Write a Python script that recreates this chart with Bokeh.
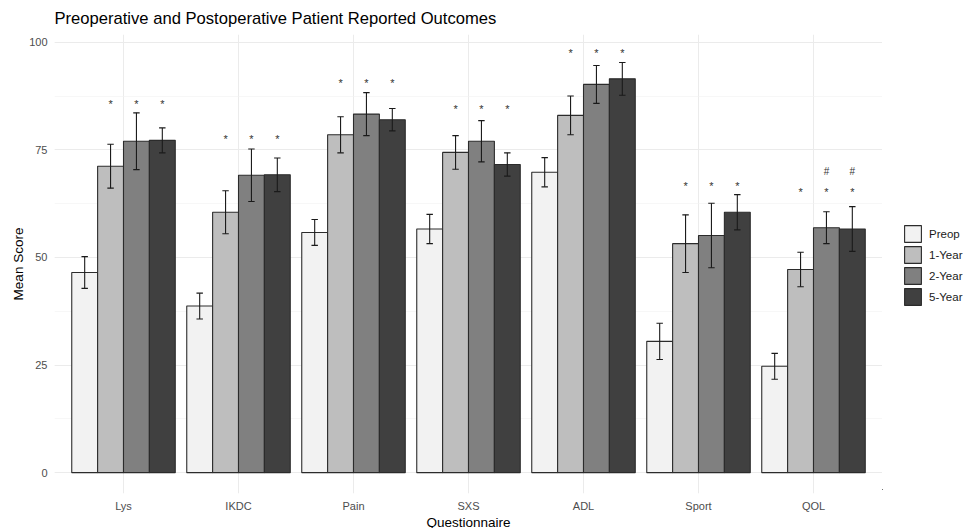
from bokeh.plotting import figure
from bokeh.layouts import row
from bokeh.models import (ColumnDataSource, FactorRange, SingleIntervalTicker, Legend, LegendItem, Range1d)
from bokeh.transform import dodge
from bokeh.core.properties import value
from bokeh.embed import file_html
from bokeh.resources import INLINE

categories = ["Lys", "IKDC", "Pain", "SXS", "ADL", "Sport", "QOL"]
groups = ["Preop", "1-Year", "2-Year", "5-Year"]

preop_mean = [46.5, 38.7, 55.8, 56.6, 69.8, 30.5, 24.7]
preop_err = [3.7, 3.0, 3.0, 3.4, 3.4, 4.2, 3.0]
y1_mean = [71.2, 60.5, 78.5, 74.4, 83.0, 53.2, 47.2]
y1_err = [5.1, 5.0, 4.2, 3.9, 4.5, 6.7, 4.0]
y2_mean = [77.0, 69.1, 83.3, 77.0, 90.2, 55.1, 56.9]
y2_err = [6.6, 6.1, 5.0, 4.8, 4.4, 7.5, 3.7]
y5_mean = [77.2, 69.2, 82.0, 71.6, 91.5, 60.5, 56.6]
y5_err = [2.9, 3.9, 2.6, 2.7, 3.8, 4.1, 5.2]

star_y = [85.7, 77.6, 90.6, 84.5, 97.5, 66.6, 65.3]
hash_y_qol = 69.9

colors = ["#F2F2F2", "#BEBEBE", "#808080", "#404040"]
means = [preop_mean, y1_mean, y2_mean, y5_mean]
errs = [preop_err, y1_err, y2_err, y5_err]

FONT = "Liberation Sans"

p = figure(x_range=FactorRange(*categories, range_padding=0.1, range_padding_units="absolute"),
           y_range=Range1d(-4.85, 101.8),
           frame_width=828, frame_height=459, output_backend="svg", toolbar_location=None,
           min_border_left=54, min_border_right=0, min_border_top=34, min_border_bottom=35,
           title="Preoperative and Postoperative Patient Reported Outcomes")
p.outline_line_color = None
p.background_fill_color = "white"

p.title.text_font = FONT
p.title.text_font_size = "16.6px"
p.title.text_font_style = "normal"
p.title.text_color = "#000000"
p.title.standoff = 13
p.title.offset = 0

bar_w = 0.9 / 4
offsets = [-0.3375, -0.1125, 0.1125, 0.3375]
cap = 0.028

for g, col, m, e, off in zip(groups, colors, means, errs, offsets):
    src = ColumnDataSource(dict(
        cat=categories, top=m,
        lo=[a - b for a, b in zip(m, e)],
        hi=[a + b for a, b in zip(m, e)],
    ))
    p.vbar(x=dodge("cat", off, range=p.x_range), top="top", bottom=0, width=bar_w, source=src,
           fill_color=col, line_color="#2b2b2b", line_width=1.1)
    p.segment(x0=dodge("cat", off, range=p.x_range), x1=dodge("cat", off, range=p.x_range),
              y0="lo", y1="hi", source=src, line_color="#1a1a1a", line_width=1.1)
    for yy in ("lo", "hi"):
        p.segment(x0=dodge("cat", off - cap, range=p.x_range), x1=dodge("cat", off + cap, range=p.x_range),
                  y0=yy, y1=yy, source=src, line_color="#1a1a1a", line_width=1.1)

# significance markers
for g, off in zip(groups[1:], offsets[1:]):
    s = ColumnDataSource(dict(cat=categories, y=star_y, t=["*"] * len(categories)))
    p.text(x=dodge("cat", off, range=p.x_range), y="y", text="t", source=s,
           text_font=value(FONT), text_font_size="11px", text_color="#333333",
           text_align="center", text_baseline="middle")
for off in offsets[2:]:
    p.text(x=dodge("cat", off, range=p.x_range), y="y", text="t",
           source=ColumnDataSource(dict(cat=["QOL"], y=[hash_y_qol], t=["#"])),
           text_font=value(FONT), text_font_size="10px", text_color="#333333",
           text_align="center", text_baseline="middle")

# axes
p.yaxis.ticker = SingleIntervalTicker(interval=25, num_minor_ticks=2)
p.ygrid.ticker = SingleIntervalTicker(interval=25, num_minor_ticks=2)
for ax in (p.xaxis[0], p.yaxis[0]):
    ax.axis_line_color = None
    ax.major_tick_line_color = None
    ax.minor_tick_line_color = None
    ax.major_tick_out = 0
    ax.major_tick_in = 0
    ax.minor_tick_out = 0
    ax.minor_tick_in = 0
    ax.major_label_text_font = FONT
    ax.major_label_text_font_size = "11px"
    ax.major_label_text_color = "#4D4D4D"
    ax.axis_label_text_font = FONT
    ax.axis_label_text_font_size = "13.5px"
    ax.axis_label_text_font_style = "normal"
    ax.axis_label_text_color = "#000000"
p.xaxis.axis_label = "Questionnaire"
p.yaxis.axis_label = "Mean Score"
p.yaxis.major_label_standoff = 7
p.xaxis.major_label_standoff = 6
p.xaxis.axis_label_standoff = 0
p.yaxis.axis_label_standoff = 0

p.xgrid.grid_line_color = "#EBEBEB"
p.xgrid.grid_line_width = 1
p.ygrid.grid_line_color = "#EBEBEB"
p.ygrid.grid_line_width = 1
p.ygrid.minor_grid_line_color = "#F2F2F2"
p.ygrid.minor_grid_line_width = 0.6

# legend panel (separate small figure to the right); proxy glyphs sit outside its view
lg = figure(width=82, height=528, output_backend="svg", toolbar_location=None,
            x_axis_type=None, y_axis_type=None,
            min_border=0, x_range=Range1d(0, 1), y_range=Range1d(0, 1))
lg.grid.visible = False
lg.outline_line_color = None
lg.border_fill_color = "white"
lg.background_fill_color = "white"
items = []
for g, col in zip(groups, colors):
    r = lg.vbar(x=[-5], top=[-5], bottom=[-6], width=0.1, fill_color=col,
                line_color="#2b2b2b", line_width=1.1)
    items.append(LegendItem(label=g, renderers=[r]))
legend = Legend(items=items, location=(20, 182), orientation="vertical",
                glyph_width=21, glyph_height=21, label_height=21, spacing=0,
                padding=0, margin=0, label_standoff=6, border_line_color=None,
                background_fill_alpha=0,
                label_text_font=FONT, label_text_font_size="11.5px", label_text_color="#1a1a1a")
lg.add_layout(legend, "center")

layout = row(p, lg, spacing=0)
open("out.html", "w").write(file_html(layout, INLINE))
